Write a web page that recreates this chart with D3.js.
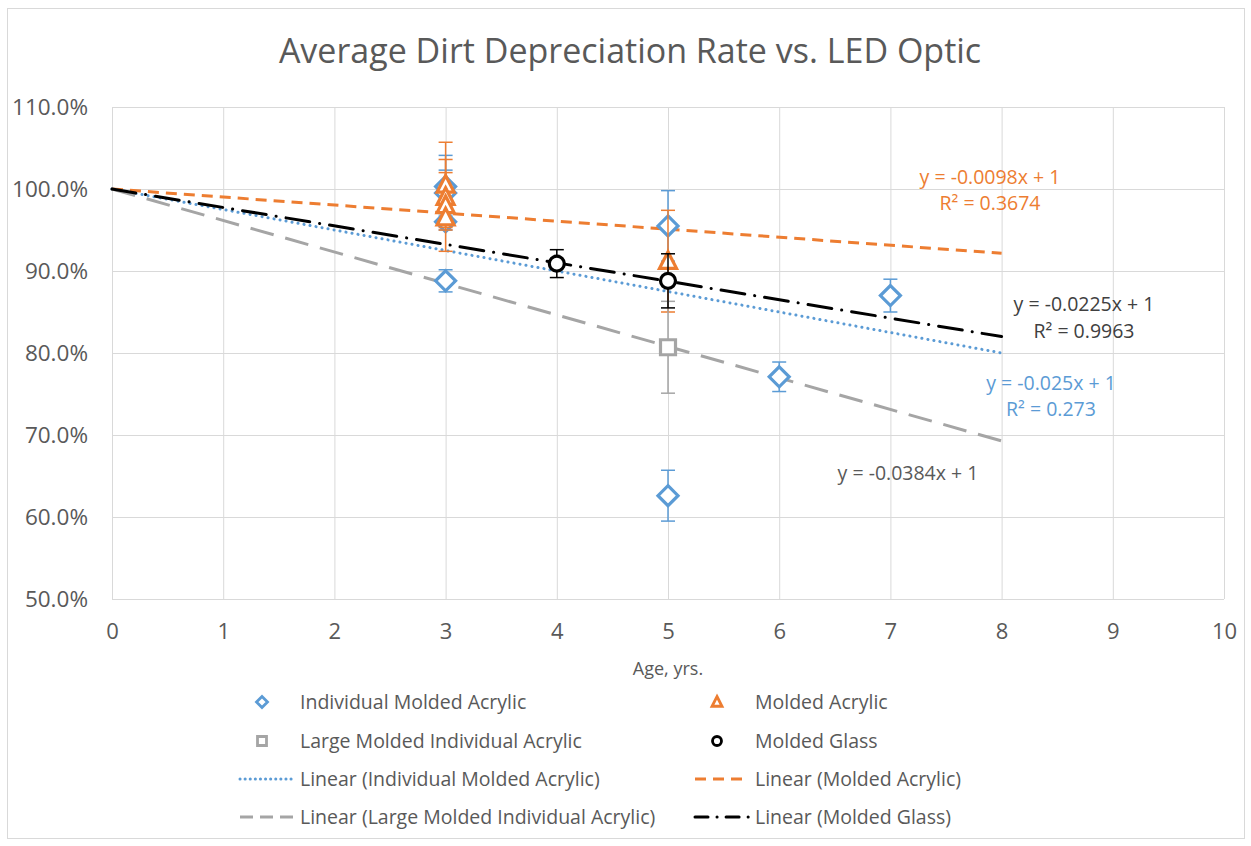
<!DOCTYPE html>
<html>
<head>
<meta charset="utf-8">
<script src="https://cdn.jsdelivr.net/npm/d3@7"></script>
<style>
  html, body { margin: 0; padding: 0; background: #fff; }
  svg text { font-family: "Open Sans", "Noto Sans", sans-serif; }
</style>
</head>
<body>
<svg id="chart" width="1251" height="846"></svg>
<script>
// ---- data ----
const xTicks = [0, 1, 2, 3, 4, 5, 6, 7, 8, 9, 10];
const yTicks = [0.5, 0.6, 0.7, 0.8, 0.9, 1.0, 1.1];

const seriesNames = [
  "Individual Molded Acrylic",
  "Molded Acrylic",
  "Large Molded Individual Acrylic",
  "Molded Glass"
];

// Individual Molded Acrylic
const indAgeYrs = [3, 3, 3, 3, 5, 5, 6, 7];
const indRate   = [1.003, 0.995, 0.960, 0.888, 0.955, 0.626, 0.771, 0.870];
const indErr    = [0.038, 0.028, 0.010, 0.0135, 0.043, 0.031, 0.018, 0.020];

// Molded Acrylic
const maAgeYrs = [3, 3, 3, 3, 5];
const maRate   = [1.005, 0.990, 0.980, 0.965, 0.912];
const maErr    = [0.052, 0.030, 0.056, 0.015, 0.062];

// Large Molded Individual Acrylic
const lgAgeYrs = [5];
const lgRate   = [0.807];
const lgErr    = [0.056];

// Molded Glass
const mgAgeYrs = [4, 5];
const mgRate   = [0.909, 0.888];
const mgErr    = [0.017, 0.033];

// Linear trend lines (slope, intercept fixed at 1), drawn from x = 0 to 8
const trendSlopes = [-0.025, -0.0098, -0.0384, -0.0225];
const trendEquations = ["y = -0.025x + 1", "y = -0.0098x + 1", "y = -0.0384x + 1", "y = -0.0225x + 1"];
const trendR2 = ["R² = 0.273", "R² = 0.3674", null, "R² = 0.9963"];
const trendRange = [0, 8];

// ---- styles ----
const colors = ["#5b9bd5", "#ed7d31", "#a5a5a5", "#000000"];
const shapes = ["diamond", "triangle", "square", "circle"];
const trendDash = ["0.1 6", "11 7", "24 12", "24 10 0.1 10"];
const textGray = "#595959";

const svg = d3.select("#chart");
svg.append("rect").attr("width", 1251).attr("height", 846).attr("fill", "#fff");
svg.append("rect").attr("x", 7.5).attr("y", 8.5).attr("width", 1237).attr("height", 830)
  .attr("fill", "none").attr("stroke", "#d9d9d9");

const plot = { left: 112, right: 1224, top: 107, bottom: 599 };
const x = d3.scaleLinear().domain([0, 10]).range([plot.left, plot.right]);
const y = d3.scaleLinear().domain([0.5, 1.1]).range([plot.bottom, plot.top]);

// Title
svg.append("text")
  .attr("x", 630).attr("y", 63)
  .attr("text-anchor", "middle")
  .attr("font-size", 34)
  .attr("fill", textGray)
  .text("Average Dirt Depreciation Rate vs. LED Optic");

// Gridlines
const gridX = svg.append("g")
  .attr("transform", `translate(0,${plot.bottom})`)
  .call(d3.axisBottom(x).tickValues(xTicks).tickSize(-(plot.bottom - plot.top)).tickFormat(""));
gridX.select(".domain").remove();
gridX.selectAll("line").attr("stroke", "#d9d9d9").attr("stroke-width", 1);

const gridY = svg.append("g")
  .attr("transform", `translate(${plot.left},0)`)
  .call(d3.axisLeft(y).tickValues(yTicks).tickSize(-(plot.right - plot.left)).tickFormat(""));
gridY.select(".domain").remove();
gridY.selectAll("line").attr("stroke", "#d9d9d9").attr("stroke-width", 1);

// Axes labels
const axY = svg.append("g")
  .attr("transform", `translate(${plot.left},0)`)
  .call(d3.axisLeft(y).tickValues(yTicks).tickSize(0).tickPadding(24).tickFormat(d3.format(".1%")));
axY.select(".domain").remove();
axY.selectAll("text").attr("font-size", 22.5).attr("fill", textGray)
  .style("font-family", '"Open Sans", sans-serif');

const axX = svg.append("g")
  .attr("transform", `translate(0,${plot.bottom})`)
  .call(d3.axisBottom(x).tickValues(xTicks).tickSize(0).tickPadding(24).tickFormat(d3.format("d")));
axX.select(".domain").remove();
axX.selectAll("text").attr("font-size", 22).attr("fill", textGray)
  .style("font-family", '"Open Sans", sans-serif');

svg.append("text")
  .attr("x", x(5)).attr("y", 675)
  .attr("text-anchor", "middle")
  .attr("font-size", 18).attr("fill", textGray)
  .text("Age, yrs.");

// Trend lines
const line = d3.line().x(d => x(d[0])).y(d => y(d[1]));
trendSlopes.forEach((m, i) => {
  const pts = trendRange.map(t => [t, 1 + m * t]);
  svg.append("path")
    .attr("d", line(pts))
    .attr("fill", "none")
    .attr("stroke", colors[i])
    .attr("stroke-width", 3)
    .attr("stroke-linecap", i === 0 || i === 3 ? "round" : "butt")
    .attr("stroke-dasharray", trendDash[i]);
});

// Marker symbol paths
function markerPath(shape, s) {
  if (shape === "diamond") return `M0,${-s}L${s},0L0,${s}L${-s},0Z`;
  if (shape === "square") return `M${-s},${-s}H${s}V${s}H${-s}Z`;
  if (shape === "triangle") return `M0,${-s * 1.1}L${s},${s * 0.85}L${-s},${s * 0.85}Z`;
  return d3.arc()({ innerRadius: 0, outerRadius: s, startAngle: 0, endAngle: 2 * Math.PI });
}

const allSeries = [
  { xs: indAgeYrs, ys: indRate, es: indErr },
  { xs: maAgeYrs, ys: maRate, es: maErr },
  { xs: lgAgeYrs, ys: lgRate, es: lgErr },
  { xs: mgAgeYrs, ys: mgRate, es: mgErr }
];
const markerSize = [10, 8.5, 7.5, 7.5];
const capHalf = 7;

allSeries.forEach((s, i) => {
  const g = svg.append("g");
  const pts = s.xs.map((v, k) => ({ x: v, y: s.ys[k], e: s.es[k] }));
  // error bars
  pts.forEach(p => {
    const eb = g.append("g").attr("stroke", colors[i]).attr("stroke-width", 1.5);
    eb.append("line").attr("x1", x(p.x)).attr("x2", x(p.x))
      .attr("y1", y(p.y + p.e)).attr("y2", y(p.y - p.e));
    [p.y + p.e, p.y - p.e].forEach(v => {
      eb.append("line").attr("x1", x(p.x) - capHalf).attr("x2", x(p.x) + capHalf)
        .attr("y1", y(v)).attr("y2", y(v));
    });
  });
  // markers
  g.selectAll("path.m").data(pts).join("path")
    .attr("class", "m")
    .attr("transform", d => `translate(${x(d.x)},${y(d.y)})`)
    .attr("d", markerPath(shapes[i], markerSize[i]))
    .attr("fill", "#fff")
    .attr("stroke", colors[i])
    .attr("stroke-width", 3.2);
});

// Trend equations
const eqPos = [
  { x: 1051, y1: 390, y2: 416 },
  { x: 990, y1: 184, y2: 210 },
  { x: 908, y1: 480, y2: null },
  { x: 1084, y1: 311, y2: 338 }
];
const eqColors = ["#5b9bd5", "#ed7d31", "#595959", "#404040"];
trendEquations.forEach((eq, i) => {
  svg.append("text")
    .attr("x", eqPos[i].x).attr("y", eqPos[i].y1)
    .attr("text-anchor", "middle").attr("font-size", 19.5)
    .attr("fill", eqColors[i]).text(eq);
  if (trendR2[i]) {
    svg.append("text")
      .attr("x", eqPos[i].x).attr("y", eqPos[i].y2)
      .attr("text-anchor", "middle").attr("font-size", 19.5)
      .attr("fill", eqColors[i]).text(trendR2[i]);
  }
});

// Legend
const legendItems = [
  { kind: "marker", s: 0, label: seriesNames[0] },
  { kind: "marker", s: 1, label: seriesNames[1] },
  { kind: "marker", s: 2, label: seriesNames[2] },
  { kind: "marker", s: 3, label: seriesNames[3] },
  { kind: "line", s: 0, label: `Linear (${seriesNames[0]})` },
  { kind: "line", s: 1, label: `Linear (${seriesNames[1]})` },
  { kind: "line", s: 2, label: `Linear (${seriesNames[2]})` },
  { kind: "line", s: 3, label: `Linear (${seriesNames[3]})` }
];
const legCols = [262, 717];
const legRows = [702, 741, 779, 817];
legendItems.forEach((it, k) => {
  const cx = legCols[k % 2], cy = legRows[Math.floor(k / 2)];
  const g = svg.append("g");
  if (it.kind === "marker") {
    g.append("path")
      .attr("transform", `translate(${cx},${cy})`)
      .attr("d", markerPath(shapes[it.s], [5.5, 5, 4.5, 4.5][it.s]))
      .attr("fill", "#fff").attr("stroke", colors[it.s]).attr("stroke-width", 2.8);
  } else {
    g.append("path")
      .attr("d", `M${cx - 22},${cy}H${cx + 32}`)
      .attr("stroke", colors[it.s]).attr("stroke-width", 3)
      .attr("stroke-linecap", it.s === 0 || it.s === 3 ? "round" : "butt")
      .attr("stroke-dasharray", [ "0.1 5", "11 7", "13 7", "13 9 0.1 9"][it.s]);
  }
  g.append("text")
    .attr("x", cx + 38).attr("y", cy + 6.5)
    .attr("font-size", 19.5).attr("fill", textGray)
    .text(it.label);
});
</script>
</body>
</html>
